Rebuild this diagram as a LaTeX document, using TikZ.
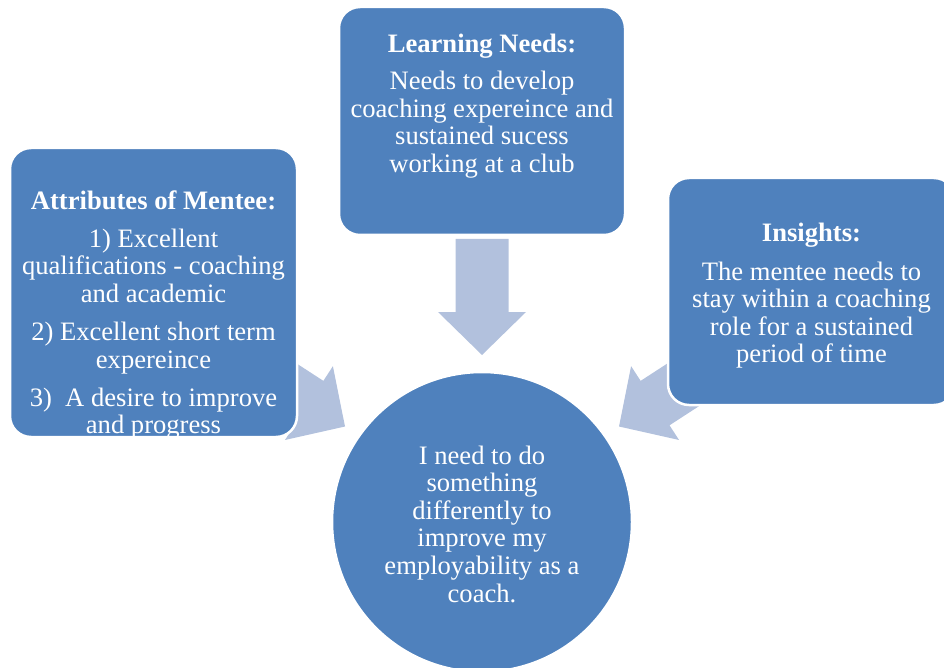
\documentclass[tikz,border=0pt]{standalone}
\usepackage{fontspec}
\setmainfont{Liberation Serif}
\usetikzlibrary{calc}
\definecolor{boxblue}{RGB}{79,129,189}
\definecolor{arrowblue}{RGB}{178,193,221}
\begin{document}
\begin{tikzpicture}[x=1pt,y=-1pt,
  panel/.style={rectangle, rounded corners=21pt, fill=boxblue, draw=white, line width=2.5pt, inner sep=0pt},
  hub/.style={circle, fill=boxblue, draw=white, line width=2.5pt, minimum size=300pt, inner sep=0pt},
  words/.style={text=white, align=center, font=\fontsize{26.6}{27.6}\selectfont, inner sep=0pt},
  blockarrow/.pic={\fill[arrowblue] (0,0) -- (-43,44) -- (-43,26.5) -- (-116,26.5) -- (-116,-26.5) -- (-43,-26.5) -- (-43,-44) -- cycle;}
]
\useasboundingbox (0,0) rectangle (944,668);

% centre of the hub circle, used to place the three block arrows
\coordinate (hubc) at (482,522);
\coordinate (tipN) at ($(hubc)+(0,-167)$);
\coordinate (tipL) at ($(hubc)+(-137,-95.5)$);
\coordinate (tipR) at ($(hubc)+(137,-95.5)$);

% block arrows pointing in towards the hub (drawn first, panels sit on top)
\pic[rotate=-90] (arrowN) at (tipN) {blockarrow};
\pic[rotate=-33] (arrowL) at (tipL) {blockarrow};
\pic[rotate=-147] (arrowR) at (tipR) {blockarrow};

% panels
\node[panel, minimum width=287pt, minimum height=289pt] (attr) at (153.5,292.5) {};
\node[panel, minimum width=286pt, minimum height=228pt] (needs) at (482,121) {};
\node[panel, minimum width=287pt, minimum height=227pt] (insight) at (811.5,291.5) {};
\node[hub] (hub) at (hubc) {};

% panel texts
\node[words] (attrText) at (153.5,315) {{\bfseries Attributes of Mentee:}\\[10.5pt]
  1) Excellent\\ qualifications - coaching\\ and academic\\[10.5pt]
  2) Excellent short term\\ expereince\\[10.5pt]
  3)\ \ A desire to improve\\ and progress};
\node[words] (needsText) at (482,106) {{\bfseries Learning Needs:}\\[10pt]
  Needs to develop\\ coaching expereince and\\ sustained sucess\\ working at a club};
\node[words] (insightText) at (811.5,296) {{\bfseries Insights:}\\[10.5pt]
  The mentee needs to\\ stay within a coaching\\ role for a sustained\\ period of time};
\node[words] (hubText) at (482,524) {I need to do\\ something\\ differently to\\ improve my\\ employability as a\\ coach.};
\end{tikzpicture}
\end{document}
